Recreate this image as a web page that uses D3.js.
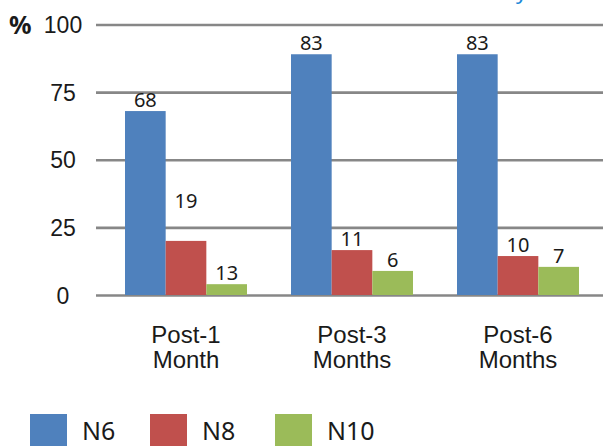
<!DOCTYPE html>
<html>
<head>
<meta charset="utf-8">
<script src="https://cdn.jsdelivr.net/npm/d3@7"></script>
<style>
  body { margin: 0; background: #fff; }
  svg { display: block; font-family: "Noto Sans", "Open Sans", sans-serif; }
</style>
</head>
<body>
<svg width="603" height="446"></svg>
<script>
const categories = ["Post-1 Month", "Post-3 Months", "Post-6 Months"];
const seriesNames = ["N6", "N8", "N10"];
// bar heights as drawn in the picture (%)
const n6Bars = [68, 89, 89];
const n8Bars = [20, 16.6, 14.4];
const n10Bars = [4, 8.9, 10.4];
// numbers printed above the bars
const n6Labels = [68, 83, 83];
const n8Labels = [19, 11, 10];
const n10Labels = [13, 6, 7];
const yTicks = [0, 25, 50, 75, 100];

const colors = { N6: "#4F81BD", N8: "#C0504D", N10: "#9BBB59" };
const bars = { N6: n6Bars, N8: n8Bars, N10: n10Bars };
const labels = { N6: n6Labels, N8: n8Labels, N10: n10Labels };

const svg = d3.select("svg");

const y = d3.scaleLinear().domain([0, 100]).range([295, 24.5]);
const x0 = d3.scaleBand().domain(categories).range([103, 601]);
const x1 = d3.scaleBand().domain(seriesNames).range([22, 144]);

// gridlines + y labels
const yAxis = svg.append("g")
  .attr("transform", "translate(96,0)")
  .call(d3.axisRight(y).tickValues(yTicks).tickSize(507).tickFormat(d3.format("d")));
yAxis.select(".domain").remove();
yAxis.selectAll(".tick line").attr("stroke", "#878787").attr("stroke-width", 2.6);
yAxis.selectAll(".tick text")
  .attr("x", -33).attr("dy", "0.35em")
  .attr("text-anchor", "middle")
  .attr("fill", "#1a1a1a")
  .style("font-size", "23px");

svg.append("text")
  .attr("x", 9).attr("y", y(100)).attr("dy", "0.36em")
  .attr("font-weight", "bold").attr("fill", "#1a1a1a")
  .style("font-size", "25px")
  .text("%");

// bars
const groups = svg.selectAll(".grp")
  .data(categories)
  .join("g")
  .attr("class", "grp")
  .attr("transform", d => `translate(${x0(d)},0)`);

groups.selectAll("rect")
  .data((c, i) => seriesNames.map(s => ({ s, v: bars[s][i] })))
  .join("rect")
  .attr("x", d => x1(d.s))
  .attr("width", x1.bandwidth())
  .attr("y", d => y(d.v))
  .attr("height", d => y(0) - y(d.v))
  .attr("fill", d => colors[d.s]);

// value labels (the N8 Post-1 label sits well above its bar in the original)
groups.selectAll(".lbl")
  .data((c, i) => seriesNames.map(s => ({ s, i, v: bars[s][i], t: labels[s][i] })))
  .join("text")
  .attr("class", "lbl")
  .attr("x", d => x1(d.s) + x1.bandwidth() / 2)
  .attr("y", d => y(d.v) - (d.s === "N8" && d.i === 0 ? 33 : 4))
  .attr("text-anchor", "middle")
  .attr("fill", "#1a1a1a")
  .style("font-size", "20px")
  .text(d => d.t);

// category labels
const xAxis = svg.append("g")
  .attr("transform", "translate(0,295)")
  .call(d3.axisBottom(x0).tickSize(0).tickFormat(""));
xAxis.select(".domain").remove();
xAxis.selectAll(".tick").each(function (d) {
  const parts = d.split(" ");
  const t = d3.select(this).append("text")
    .attr("text-anchor", "middle")
    .attr("fill", "#1a1a1a")
    .style("font-size", "24px");
  t.append("tspan").attr("x", 0).attr("y", 48).text(parts[0]);
  t.append("tspan").attr("x", 0).attr("y", 73).text(parts[1]);
});

// legend
const legend = svg.append("g").attr("transform", "translate(30,414)");
const legendStep = [0, 120, 245];
seriesNames.forEach((s, i) => {
  const g = legend.append("g").attr("transform", `translate(${legendStep[i]},0)`);
  g.append("rect").attr("width", 37).attr("height", 34).attr("fill", colors[s]);
  g.append("text")
    .attr("x", 52).attr("y", 26)
    .attr("fill", "#1a1a1a")
    .style("font-size", "25px")
    .text(s);
});

// clipped fragment of a blue heading above the chart
svg.append("text")
  .attr("x", 516).attr("y", -1.5)
  .attr("fill", "#1f8ad8")
  .style("font-size", "22px")
  .text("y");
</script>
</body>
</html>
